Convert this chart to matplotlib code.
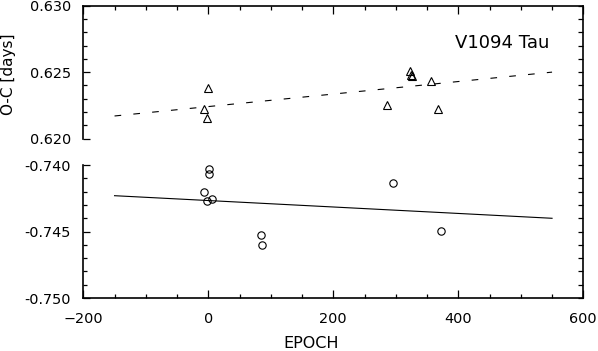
import matplotlib
matplotlib.use("Agg")
import matplotlib.pyplot as plt
from matplotlib.ticker import MultipleLocator, FormatStrFormatter, NullLocator

# --- data ---
tri_epoch = [0.0, -6.4, -2.6, 286.4, 322.7, 324.3, 326.4, 355.8, 367.0]
tri_oc = [0.6238, 0.6222, 0.62155, 0.6225, 0.6251, 0.6248, 0.6247, 0.62435, 0.62223]

circ_epoch = [0.6, 0.6, -6.4, -2.6, 5.9, 83.8, 85.4, 296.0, 371.8]
circ_oc = [-0.74032, -0.74065, -0.74203, -0.7427, -0.74257,
           -0.74527, -0.74602, -0.74132, -0.74495]

fit_epoch = [-150, 550]
fit_tri = [0.6217, 0.6250]
fit_circ = [-0.7423, -0.7440]

plt.rcParams["font.family"] = ["DejaVu Sans"]

# --- layout (figure fractions) ---
L, W = 83.3 / 598, 500 / 598
B, H = 53 / 351, 292.3 / 351
PH = H * 10 / 22          # each panel covers 10 of 22 units, gap of 2

fig = plt.figure(figsize=(5.98, 3.51), dpi=100)

# outer frame: top, bottom and right spines with their ticks
frame = fig.add_axes([L, B, W, H])
frame.set_xlim(-200, 600)
frame.set_ylim(0, 22)
frame.spines["left"].set_visible(False)
for s in ("top", "bottom", "right"):
    frame.spines[s].set_linewidth(1.2)
frame.xaxis.set_major_locator(MultipleLocator(200))
frame.xaxis.set_minor_locator(MultipleLocator(50))
frame.tick_params(axis="x", which="both", direction="in", top=True, bottom=True,
                  width=0.9, labelsize=10.4, pad=10)
frame.tick_params(axis="x", which="major", length=5.8)
frame.tick_params(axis="x", which="minor", length=2.9)
frame.yaxis.set_major_locator(MultipleLocator(1))
frame.tick_params(axis="y", which="both", left=False, right=True, labelleft=False,
                  direction="in", length=3.3, width=0.9)


def panel(bottom, ylim):
    ax = fig.add_axes([L, bottom, W, PH])
    ax.set_facecolor("none")
    ax.set_xlim(-200, 600)
    ax.set_ylim(*ylim)
    for s in ("top", "bottom", "right"):
        ax.spines[s].set_visible(False)
    ax.spines["left"].set_linewidth(1.2)
    ax.xaxis.set_major_locator(NullLocator())
    ax.xaxis.set_minor_locator(NullLocator())
    ax.yaxis.set_major_locator(MultipleLocator(0.005))
    ax.yaxis.set_minor_locator(MultipleLocator(0.001))
    ax.yaxis.set_major_formatter(FormatStrFormatter("%.3f"))
    ax.tick_params(axis="y", which="both", direction="in", left=True, right=False,
                   width=0.9, labelsize=10.4, pad=9)
    ax.tick_params(axis="y", which="major", length=5)
    ax.tick_params(axis="y", which="minor", length=2.9)
    return ax


bot = panel(B, (-0.750, -0.740))
top = panel(B + H * 12 / 22, (0.620, 0.630))

top.plot(tri_epoch, tri_oc, ls="none", marker="^", mfc="none", mec="black",
         ms=5.5, mew=0.8)
top.plot(fit_epoch, fit_tri, color="black", lw=0.8, dashes=(6, 11))

bot.plot(circ_epoch, circ_oc, ls="none", marker="o", mfc="none", mec="black",
         ms=5.3, mew=0.8)
bot.plot(fit_epoch, fit_circ, color="black", lw=0.8)

top.text(470, 0.6272, "V1094 Tau", fontsize=13, ha="center", va="center")

fig.text(8.5 / 598, 1 - 74 / 351, "O-C [days]", rotation=90,
         ha="center", va="center", fontsize=11)
fig.text(311 / 598, 1 - 343 / 351, "EPOCH", ha="center", va="center",
         fontsize=11.5)

fig.savefig("out.png", dpi=100)
